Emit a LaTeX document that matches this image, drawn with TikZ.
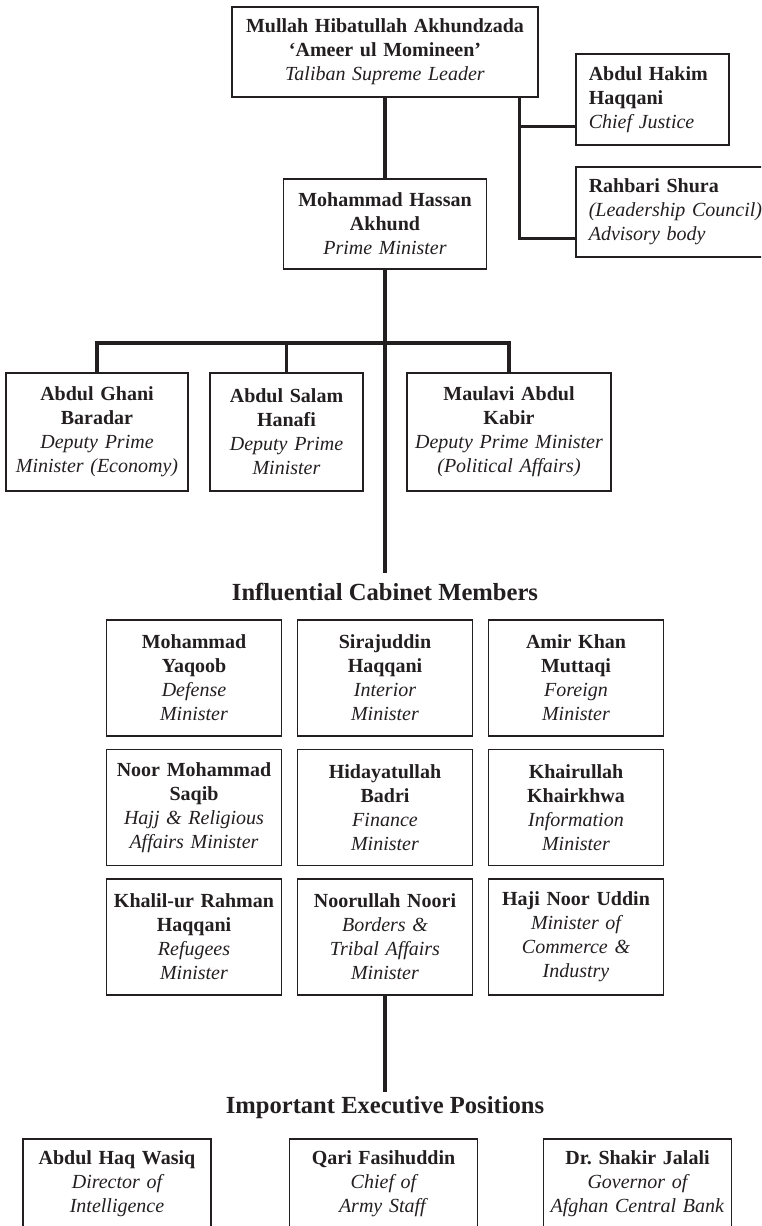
\documentclass[tikz,border=0pt]{standalone}
\usepackage{fontspec}
\setmainfont{Liberation Serif}
\usetikzlibrary{calc}
\definecolor{ink}{RGB}{35,31,32}
\newcommand{\who}[2]{\textbf{#1}\\\textit{#2}}
\frenchspacing

\begin{document}
\begin{tikzpicture}[x=0.5pt, y=-0.5pt,
	box/.style 2 args={
		draw=ink,
		line width=0.8pt,
		text width=#1,
		minimum height=#2,
		align=center,
		inner xsep=3pt,
		inner ysep=3pt,
		text=ink,
		font=\fontsize{10}{12}\selectfont},
	aside/.style={
		draw=ink,
		line width=0.8pt,
		text width=#1,
		minimum height=45.5pt,
		align=left,
		inner xsep=6.5pt,
		text=ink,
		font=\fontsize{10}{12}\selectfont},
	head/.style={text=ink, font=\fontsize{12.3}{14}\selectfont\bfseries},
	link/.style={draw=ink, line width=1.6pt}]
	\useasboundingbox (0,0) rectangle (761,1226);
	\clip (0,0) rectangle (761,1226);
	% draw leader, prime minister and side bodies
	\node[box={147pt}{45pt}] (lead) at (385,52) {\textbf{Mullah Hibatullah Akhundzada}\\\who{‘Ameer ul Momineen’}{Taliban Supreme Leader}};
	\node[box={95.5pt}{45pt}] (pm) at (385,224) {\who{Mohammad Hassan\\Akhund}{Prime Minister}};
	\node[aside=63.5pt, anchor=west] (cj) at (575,99.5) {\who{Abdul Hakim\\Haqqani}{Chief Justice}};
	\node[aside=90pt, anchor=west, minimum height=45pt] (shura) at (575,212) {\who{Rahbari Shura}{(Leadership Council)\\Advisory body}};
	% draw links to side bodies
	\coordinate (fork) at ($(lead.south east)+(-19,0)$);
	\coordinate (cjin) at ($(cj.south west)+(0,-19)$);
	\coordinate (shin) at ($(shura.south west)+(0,-19)$);
	\draw[link] (fork) |- (shin);
	\draw[link] (fork |- cjin) -- (cjin);
	\draw[link] (lead.south) -- (pm.north);
	% draw deputy prime ministers
	\foreach \nm/\rl/\x/\w [count=\step from 1] in {{Abdul Ghani\\Baradar}/{Deputy Prime\\Minister (Economy)}/97/85pt, {Abdul Salam\\Hanafi}/{Deputy Prime\\Minister}/286.5/70.5pt, {Maulavi Abdul\\Kabir}/{Deputy Prime Minister\\(Political Affairs)}/509/96pt}
	\node[box={\w}{59pt}] (dp\step) at (\x,432) {\who{\nm}{\rl}};
	\coordinate (bar) at (385,343);
	\draw[link] (dp1.north) |- (bar -| dp3.north) -- (dp3.north);
	\draw[link] (dp2.north) -- (dp2.north |- bar);
	\coordinate (end1) at (385,573);
	\draw[link] (pm.south) -- (end1);
	% draw cabinet grid
	\node[head] (cab) at (385,592) {Influential Cabinet Members};
	\foreach \nm/\rl [count=\step from 0] in {{Mohammad\\Yaqoob}/{Defense\\Minister}, {Sirajuddin\\Haqqani}/{Interior\\Minister}, {Amir Khan\\Muttaqi}/{Foreign\\Minister}, {Noor Mohammad\\Saqib}/{Hajj \& Religious\\Affairs Minister}, {Hidayatullah\\Badri}/{Finance\\Minister}, {Khairullah\\Khairkhwa}/{Information\\Minister}, {Khalil-ur Rahman\\Haqqani}/{Refugees\\Minister}, {Noorullah Noori}/{Borders \&\\Tribal Affairs\\Minister}, {Haji Noor Uddin}/{Minister of\\Commerce \&\\Industry}} {
		\pgfmathtruncatemacro{\colno}{mod(\step,3)}
		\pgfmathtruncatemacro{\rowno}{div(\step,3)}
		\node[box={81.5pt}{58pt}] (cm\step) at (194+191*\colno, 678+129.5*\rowno) {\who{\nm}{\rl}};
	}
	\coordinate (end2) at (385,1092);
	\draw[link] (cm7.south) -- (end2);
	% draw executive positions
	\node[head] (exe) at (385,1108) {Important Executive Positions};
	\foreach \nm/\rl/\x [count=\step from 1] in {{Abdul Haq Wasiq}/{Director of\\Intelligence}/117, {Qari Fasihuddin}/{Chief of\\Army Staff}/383.5, {Dr. Shakir Jalali}/{Governor of\\Afghan Central Bank}/637.5}
	\node[box={88pt}{0pt}, anchor=north, inner ysep=6pt, text depth=40pt] (ex\step) at (\x,1138) {\who{\nm}{\rl}};
\end{tikzpicture}
\end{document}
